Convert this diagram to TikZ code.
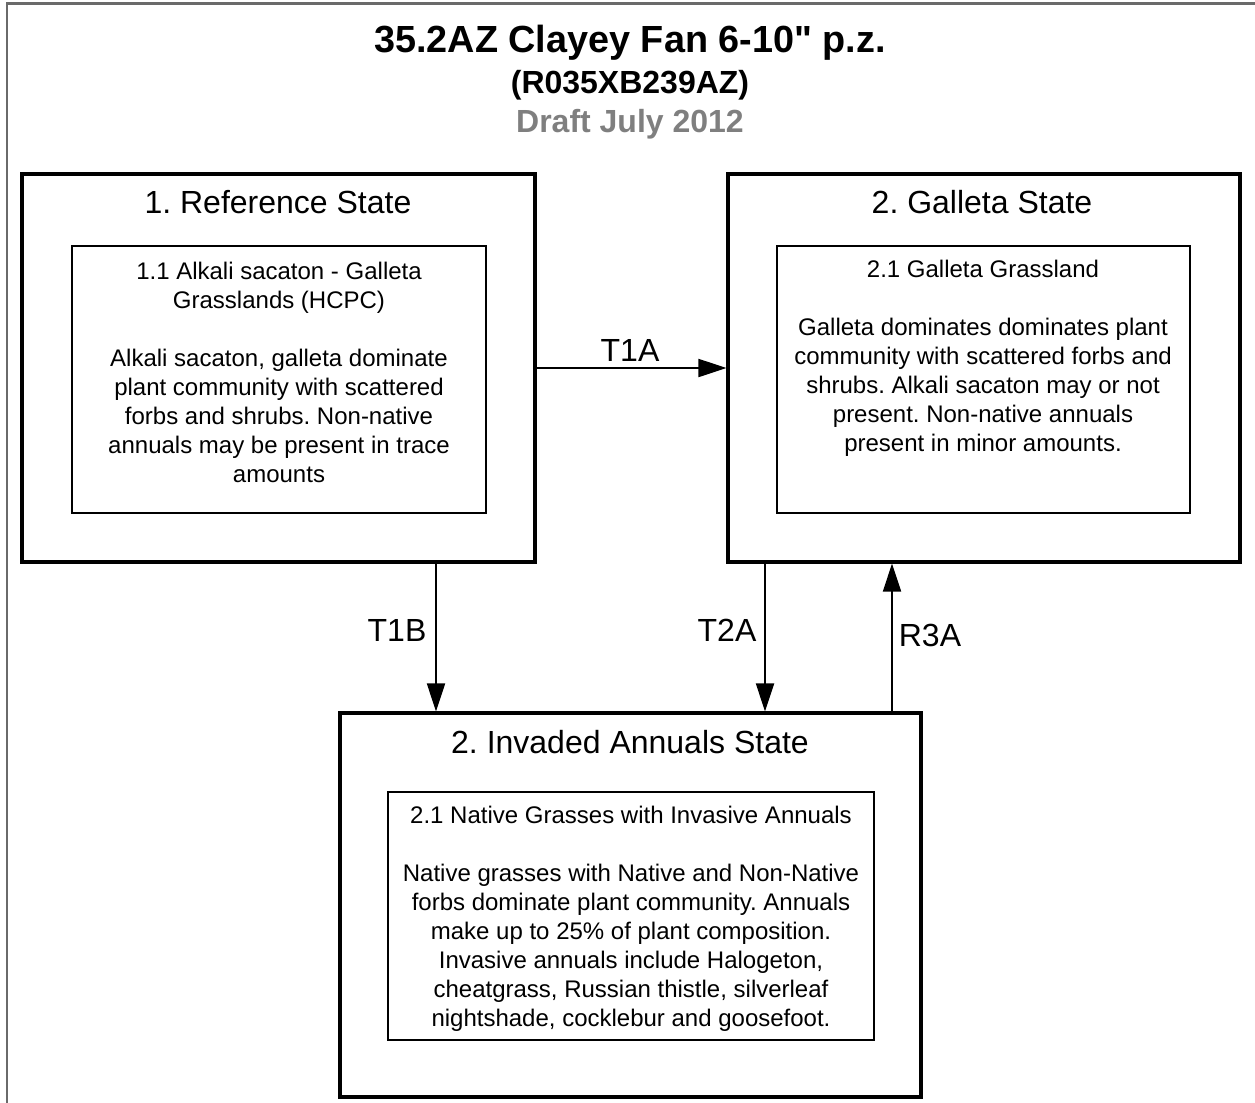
\documentclass[tikz,border=0pt]{standalone}
\usepackage{fontspec}
\setmainfont{Liberation Sans}
\usetikzlibrary{arrows.meta}
\definecolor{framegray}{HTML}{6A6A6A}
\definecolor{draftgray}{HTML}{7F7F7F}
\frenchspacing
\newcommand{\straightquote}{\XeTeXglyph\XeTeXcharglyph"22\relax}
\begin{document}
\begin{tikzpicture}[x=0.5pt,y=-0.5pt,
  outerbox/.style={draw, line width=1.6pt, inner sep=0pt},
  innerbox/.style={draw, line width=1pt, inner sep=0pt},
  statetitle/.style={font=\fontsize{16}{19}\selectfont, inner sep=0pt},
  boxtext/.style={font=\fontsize{12}{14.5}\selectfont, align=center, inner sep=0pt},
  lbl/.style={font=\fontsize{16}{19}\selectfont, inner sep=0pt},
  conn/.style={line width=1pt, -{Triangle[length=14pt,width=9pt]}},
  frame/.style={draw=framegray, line width=1.2pt}]
\useasboundingbox (0,0) rectangle (1255,1103);
% page frame
\coordinate (fl) at (7,1103);
\coordinate (fc) at (7,3.5);
\coordinate (fr) at (1255,3.5);
\draw[frame] (fl) -- (fc) -- (fr);
% title
\node[font=\bfseries\fontsize{18.9}{22}\selectfont, inner sep=0pt] (t1) at (630,43) {35.2AZ Clayey Fan 6-10\straightquote{} p.z.};
\node[font=\bfseries\fontsize{16}{19}\selectfont, inner sep=0pt] (t2) at (630,85) {(R035XB239AZ)};
\node[font=\bfseries\fontsize{16}{19}\selectfont, text=draftgray, inner sep=0pt] (t3) at (630,124) {Draft July 2012};
% state boxes
\node[outerbox, minimum width=256.5pt, minimum height=194pt] (s1) at (278.5,368) {};
\node[outerbox, minimum width=256pt, minimum height=194pt] (s2) at (984,368) {};
\node[outerbox, minimum width=290.5pt, minimum height=192pt] (s3) at (630.5,905) {};
% state titles
\node[statetitle] (s1t) at (278,202) {1. Reference State};
\node[statetitle] (s2t) at (982,202) {2. Galleta State};
\node[statetitle] (s3t) at (630,742) {2. Invaded Annuals State};
% community boxes
\node[innerbox, minimum width=207pt, minimum height=133.5pt] (c1) at (279,379.5) {};
\node[innerbox, minimum width=206.5pt, minimum height=133.5pt] (c2) at (983.5,379.5) {};
\node[innerbox, minimum width=243pt, minimum height=124pt] (c3) at (631,916) {};
% community texts
\node[boxtext] (c1t) at (279,372) {1.1 Alkali sacaton - Galleta\\Grasslands (HCPC)\\[14.5pt]Alkali sacaton, galleta dominate\\plant community with scattered\\forbs and shrubs. Non-native\\annuals may be present in trace\\amounts};
\node[boxtext] (c2t) at (983,358.5) {2.1 Galleta Grassland\\[14.5pt]Galleta dominates dominates plant\\community with scattered forbs and\\shrubs. Alkali sacaton may or not\\present. Non-native annuals\\present in minor amounts.};
\node[boxtext] (c3t) at (631,918.5) {2.1 Native Grasses with Invasive Annuals\\[14.5pt]Native grasses with Native and Non-Native\\forbs dominate plant community. Annuals\\make up to 25\% of plant composition.\\Invasive annuals include Halogeton,\\cheatgrass, Russian thistle, silverleaf\\nightshade, cocklebur and goosefoot.};
% transitions
\draw[conn] (s1.east) -- (s2.west);
\draw[conn] ([xshift=78.75pt]s1.south) -- ([xshift=78.75pt]s1.south |- s3.north);
\draw[conn] ([xshift=-109.5pt]s2.south) -- ([xshift=-109.5pt]s2.south |- s3.north);
\draw[conn] ([xshift=130.75pt]s3.north) -- ([xshift=130.75pt]s3.north |- s2.south);
% labels
\node[lbl] (l1) at (630,350) {T1A};
\node[lbl] (l2) at (397,630) {T1B};
\node[lbl] (l3) at (727,630) {T2A};
\node[lbl] (l4) at (930,635) {R3A};
\end{tikzpicture}
\end{document}
